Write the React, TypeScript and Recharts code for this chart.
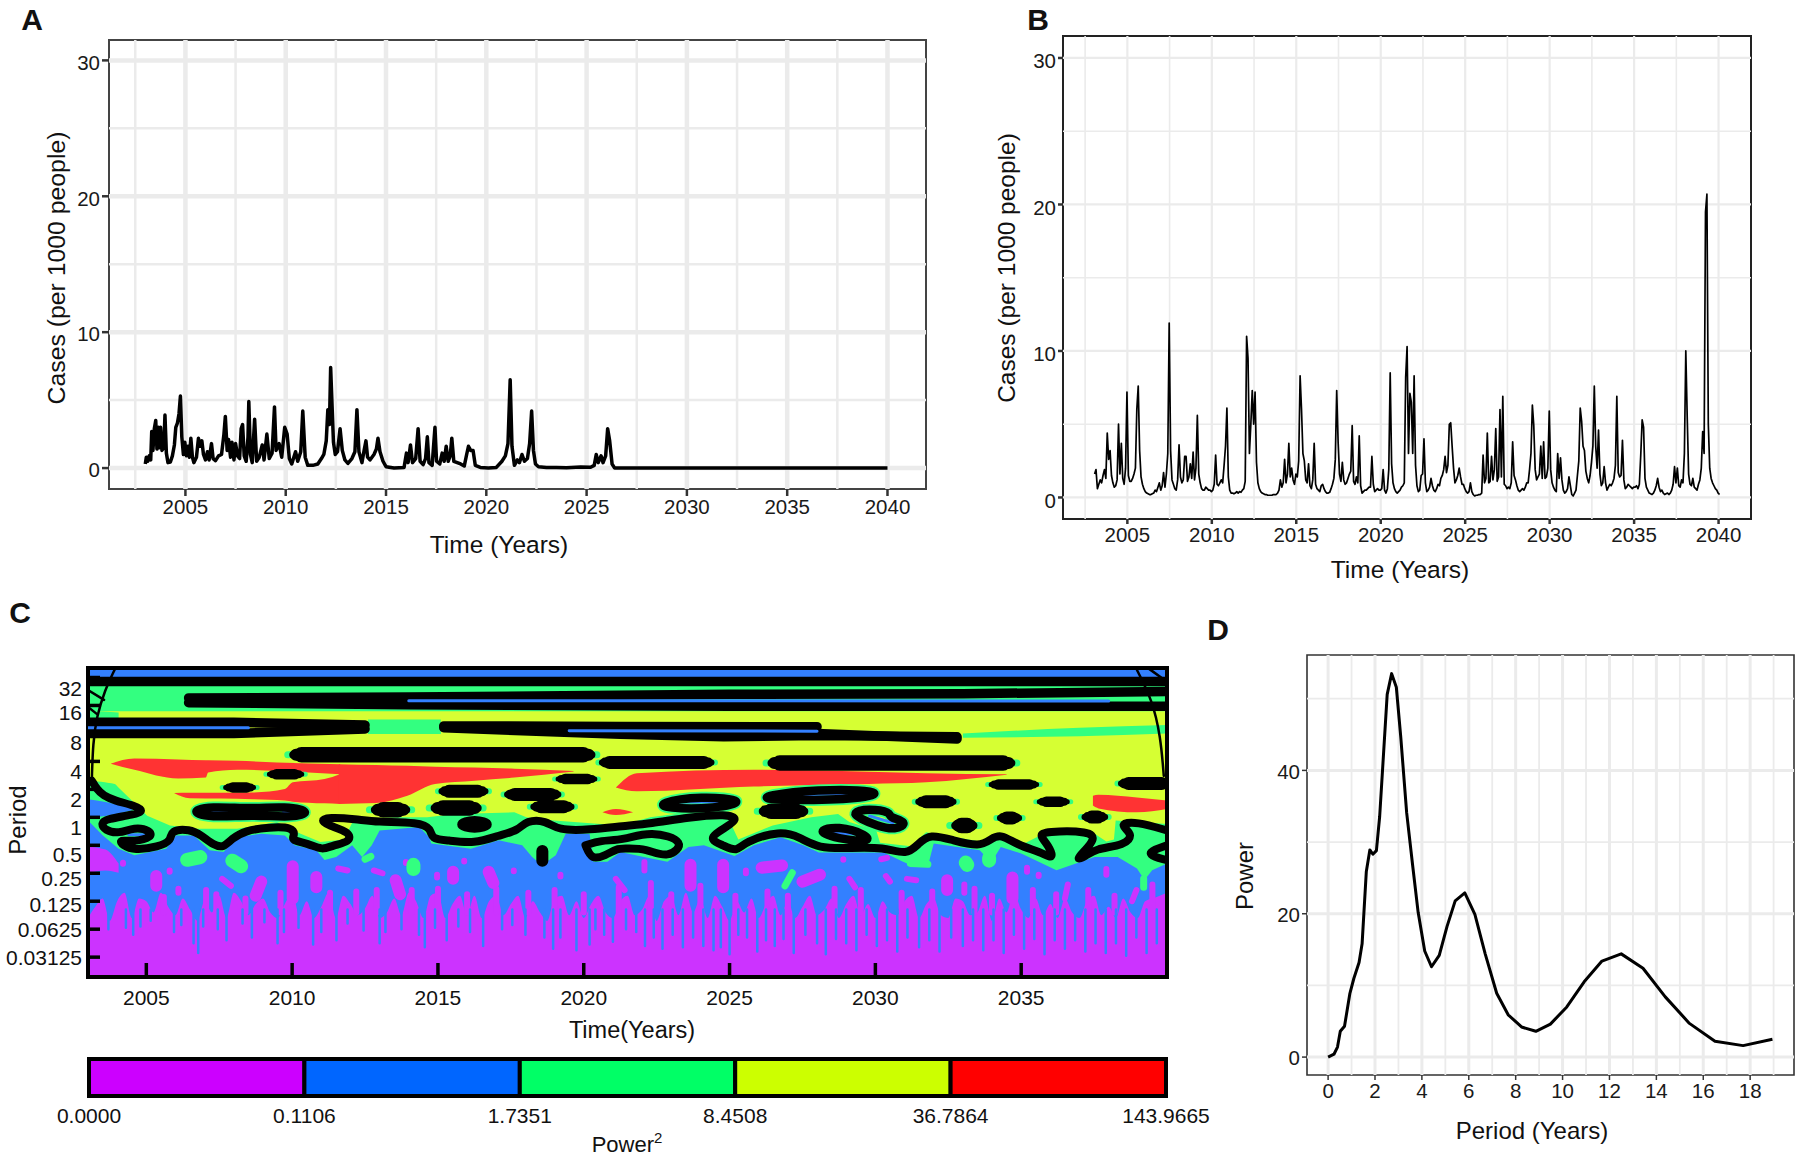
import React from "react";
import {
  Area,
  Bar,
  BarChart,
  ComposedChart,
  Line,
  LineChart,
  ReferenceArea,
  ReferenceLine,
  XAxis,
  YAxis,
} from "recharts";

const FONT = '"Liberation Sans", Arial, sans-serif';

// panel A, [year, cases]
const casesA = [
  [2003.0,.3],[2003.05,.8],[2003.12,.5],[2003.2,.9],[2003.27,.6],[2003.32,2.7],[2003.38,1.3],[2003.45,2.9],[2003.52,3.5],[2003.58,1.4],[2003.65,3.0],[2003.7,1.5],[2003.76,3.0],[2003.83,1.3],[2003.92,1.5],[2003.98,3.9],[2004.05,1.1],[2004.13,.4],[2004.25,.45],[2004.35,.9],[2004.45,1.7],[2004.52,3.0],[2004.6,3.3],[2004.68,4.0],[2004.75,5.3],[2004.82,2.3],[2004.9,1.0],[2004.97,1.9],[2005.05,.9],[2005.12,1.6],[2005.2,.8],[2005.27,2.2],[2005.35,.8],[2005.42,.4],[2005.55,.8],[2005.65,2.2],[2005.72,1.6],[2005.82,2.0],[2005.9,1.0],[2006.0,.6],[2006.1,1.2],[2006.18,.6],[2006.3,1.8],[2006.38,.7],[2006.5,.55],[2006.65,.9],[2006.8,1.0],[2006.92,2.5],[2006.99,3.8],[2007.08,1.3],[2007.15,2.1],[2007.25,.8],[2007.32,1.9],[2007.42,.6],[2007.5,1.8],[2007.6,.9],[2007.7,.7],[2007.78,2.9],[2007.85,3.2],[2007.93,.9],[2008.03,.5],[2008.12,2.3],[2008.16,4.9],[2008.24,1.0],[2008.33,.4],[2008.45,3.6],[2008.55,.5],[2008.68,.8],[2008.83,1.7],[2008.92,.6],[2009.06,2.5],[2009.18,.7],[2009.32,1.1],[2009.44,4.5],[2009.52,1.3],[2009.67,1.8],[2009.8,.8],[2009.95,3.0],[2010.07,2.5],[2010.18,.7],[2010.3,.3],[2010.49,1.2],[2010.6,.5],[2010.75,1.2],[2010.85,4.2],[2010.97,.8],[2011.1,.2],[2011.35,.2],[2011.6,.3],[2011.78,.7],[2011.9,1.0],[2012.02,2.0],[2012.1,4.3],[2012.18,3.2],[2012.24,7.4],[2012.3,5.0],[2012.38,1.9],[2012.47,1.0],[2012.58,1.2],[2012.71,2.9],[2012.82,1.3],[2012.95,.6],[2013.1,.35],[2013.3,.7],[2013.45,1.2],[2013.55,4.3],[2013.65,1.2],[2013.8,.4],[2013.92,1.4],[2014.0,2.0],[2014.08,.8],[2014.2,.6],[2014.4,1.0],[2014.52,1.4],[2014.6,2.2],[2014.7,1.2],[2014.85,.5],[2015.0,.1],[2015.4,.0],[2015.9,.05],[2016.02,1.1],[2016.1,.4],[2016.22,1.7],[2016.32,.4],[2016.48,.7],[2016.6,2.9],[2016.7,.5],[2016.85,.25],[2016.97,.7],[2017.06,2.3],[2017.14,.4],[2017.3,.2],[2017.44,3.0],[2017.52,.5],[2017.68,.3],[2017.8,1.1],[2017.9,.5],[2018.0,1.6],[2018.1,.5],[2018.2,.9],[2018.28,2.2],[2018.38,.5],[2018.55,.4],[2018.72,.3],[2018.9,.15],[2019.02,1.0],[2019.11,1.6],[2019.22,1.3],[2019.34,1.3],[2019.45,.2],[2019.7,.05],[2020.1,.0],[2020.5,.05],[2020.78,.5],[2020.95,.9],[2021.08,1.8],[2021.19,6.5],[2021.28,1.6],[2021.4,.2],[2021.55,.6],[2021.65,.4],[2021.78,1.0],[2021.9,.5],[2022.05,.7],[2022.16,1.8],[2022.26,4.2],[2022.35,1.3],[2022.45,.3],[2022.6,.1],[2023.0,.05],[2023.5,.05],[2024.0,.03],[2024.7,.08],[2025.2,.06],[2025.38,.2],[2025.48,1.0],[2025.58,.4],[2025.72,.9],[2025.82,.4],[2025.95,.9],[2026.05,2.9],[2026.15,2.0],[2026.27,.3],[2026.4,.0],[2028,.0],[2032,.0],[2036,.0],[2040,.0],
];

// panel B, monthly values, one row per year from 2003
const casesBMonthly = [
  1.6,1.9,.6,.9,1.2,1.0,1.5,1.9,1.3,4.4,2.6,3.2,
  1.5,1.0,.7,.8,1.2,5.0,1.6,3.7,1.3,.9,2.0,7.2,
  1.5,1.1,1.1,1.3,1.6,2.0,6.0,7.6,3.2,1.4,.9,.6,
  .4,.3,.25,.2,.2,.25,.3,.5,.4,.7,1.0,.5,
  .8,1.7,.7,1.6,3.0,11.9,3.2,1.2,.9,.6,.5,1.2,
  3.6,1.4,1.0,1.2,2.8,2.8,1.1,1.4,2.3,1.3,3.1,1.2,
  2.0,5.6,1.6,1.0,.6,.5,.5,.7,.6,.5,.5,.4,
  .5,.9,2.9,.9,.8,1.0,1.2,1.0,2.2,3.5,6.1,1.4,
  .5,.3,.3,.25,.3,.4,.3,.4,.35,.5,.6,1.1,
  11.0,9.5,3.0,5.0,7.3,5.0,7.2,2.4,1.0,.6,.4,.3,
  .25,.2,.2,.15,.15,.15,.15,.2,.2,.2,.3,.5,
  1.2,.7,1.0,2.6,1.0,1.6,3.7,1.4,2.0,1.2,.9,1.6,
  1.4,2.5,8.3,6.0,3.0,2.5,1.2,1.0,2.3,.8,.6,1.2,
  3.7,.9,.6,.5,.4,.8,.9,.6,.4,.3,.3,.35,
  .6,.9,1.3,2.6,7.3,3.8,1.6,1.1,2.4,1.2,.9,1.0,
  1.3,1.6,1.8,4.9,1.1,.9,1.4,1.0,4.2,.8,.3,.4,
  .5,.5,.6,.7,.7,2.8,.9,.4,.5,.6,.5,.5,
  .6,1.9,.5,.3,.6,1.9,8.5,2.3,1.0,.6,.4,.3,
  .4,.5,.7,.8,1.0,8.2,10.3,3.0,7.1,6.5,3.0,8.3,
  2.2,.8,.4,.5,1.5,1.6,4.0,1.0,.4,.5,.7,1.3,
  .8,.5,.4,.6,.9,.8,1.3,1.5,1.9,2.8,1.7,2.2,
  5.0,5.1,3.5,2.0,1.0,1.2,1.5,2.0,1.4,.9,.9,.6,
  .4,.3,.4,1.0,.4,.2,.1,.15,.15,.2,.2,.3,
  2.9,1.0,1.3,4.4,1.0,1.1,2.8,1.2,1.9,4.7,1.1,1.4,
  6.0,1.4,6.9,.9,.8,.6,.7,.6,1.0,3.8,1.5,1.2,
  .8,.5,.4,.5,.6,.5,.7,1.0,1.0,1.9,3.0,6.3,
  4.9,1.9,1.2,1.4,1.6,3.5,1.3,3.8,1.3,1.4,2.0,5.9,
  1.9,1.0,.7,.5,.4,3.0,1.3,2.7,1.2,.5,.3,.4,
  .6,1.4,.8,.2,.1,.3,.5,1.5,2.5,6.1,5.2,3.5,
  3.2,1.8,1.3,1.0,1.5,2.4,3.5,7.6,3.5,2.0,4.6,1.6,
  .8,1.0,2.1,1.0,.5,.7,.9,.8,1.0,1.3,2.2,6.9,
  1.7,1.4,1.5,3.9,1.2,.6,.7,.9,.8,.7,.6,.7,
  .7,.8,.6,.9,2.9,5.3,4.8,1.3,.7,.5,.3,.25,
  .2,.3,.5,.8,1.3,.7,.4,.5,.3,.2,.25,.3,
  .2,.3,.5,.9,2.1,1.0,2.0,.8,.7,1.2,1.0,3.0,
  10.0,5.5,1.6,.9,.8,1.3,.7,.6,.5,.9,1.2,2.0,
  4.5,3.0,19.5,20.7,5.0,2.0,1.3,1.0,.8,.6,.5,.3,
  .2,
];
const casesB = casesBMonthly.map((v, i) => [2003.06 + i / 12, v]);

// panel D, [period, power]
const spectrum = [
  [0,0],[.25,.4],[.4,1.4],[.52,3.6],[.7,4.3],[.93,8.9],[1.1,11],[1.32,13.2],[1.45,15.8],[1.63,25.9],[1.78,28.9],[1.91,28.3],[2.06,28.8],[2.2,33.6],[2.52,50.6],[2.71,53.5],[2.91,51.6],[3.1,44.6],[3.35,34.1],[3.6,26.9],[3.84,20.2],[4.12,14.8],[4.41,12.6],[4.74,14.2],[5.07,18.2],[5.42,21.8],[5.83,22.9],[6.26,19.9],[6.7,14.4],[7.19,8.9],[7.68,5.9],[8.25,4.2],[8.86,3.6],[9.48,4.6],[10.18,7],[10.92,10.5],[11.68,13.4],[12.5,14.4],[13.43,12.4],[14.38,8.4],[15.41,4.7],[16.5,2.2],[17.7,1.6],[18.95,2.5],
];

// panel C, everything in years and log2(period)
const periodTicks = [-5, -4, -3, -2, -1, 0, 1, 2, 3, 4, 5];
const periodLabels = ["0.03125", "0.0625", "0.125", "0.25", "0.5", "1", "2", "4", "8", "16", "32"];
const periodLabelNudge = [1, 1, 4, 6, 10, 11, 11, 10.5, 10, 8, 11];
const mapYears = [2005, 2010, 2015, 2020, 2025, 2030, 2035];
const mapRightTicks = [-5, -4, -3, -2, -1, 0, 1, 2, 3];
const V_MIN = -5.71;
const V_MAX = 5.34;
const GREEN_TOP = 4.72;
const YELLOW_TOP = 3.79;

// purple / blue boundary, one value every quarter year from 2003
const purpleTop = [
  -3.6,-3.2,-2.9,-3.7,-3.0,-2.7,-3.6,-2.9,
  -3.0,-3.4,-2.7,-3.2,-3.5,-2.9,-3.3,-3.7,
  -3.0,-3.4,-2.8,-3.6,-2.7,-3.0,-3.5,-3.1,
  -2.9,-3.4,-3.6,-3.1,-2.7,-3.5,-3.0,-3.6,
  -3.2,-2.7,-3.6,-2.8,-3.1,-3.5,-3.25,-2.8,
  -3.6,-3.4,-2.9,-3.5,-2.7,-3.0,-3.6,-2.8,
  -2.7,-3.6,-3.1,-2.8,-3.5,-2.8,-3.6,-3.0,
  -2.8,-3.5,-3.1,-2.8,-3.6,-3.0,-3.4,-3.7,
  -2.9,-2.8,-3.5,-3.0,-3.6,-3.1,-2.8,-3.4,
  -3.6,-3.0,-2.8,-3.5,-3.3,-2.8,-3.7,-3.0,
  -2.8,-3.5,-2.7,-3.4,-2.9,-3.6,-2.8,-3.2,
  -3.7,-3.0,-3.4,-2.9,-3.6,-3.1,-2.8,-3.5,
  -3.0,-3.6,-3.2,-2.8,-3.5,-3.3,-2.9,-3.6,
  -3.1,-2.8,-3.5,-3.1,-3.6,-3.0,-3.4,-3.5,
  -3.0,-2.8,-3.6,-3.1,-2.9,-3.5,-3.6,-2.9,
  -3.0,-3.5,-3.4,-2.8,-3.7,-2.9,-3.4,-2.7,
  -3.3,-3.6,-2.9,-3.5,-3.1,-3.6,-2.9,-3.4,
  -3.6,-3.0,-2.8,-3.5,-3.2,-3.6,-2.9,-3.4,
  -3.6,-3.0,-2.9,-2.8,-2.7,
];

// thin blue runs going down into the purple, [year, lowest period]
const blueFingers = [
  [2003.7,-4.0],[2004.3,-3.95],[2004.55,-4.2],[2004.8,-3.9],[2005.15,-3.7],[2005.95,-4.1],[2006.2,-3.85],[2006.62,-4.5],[2006.78,-4.85],[2006.95,-3.9],[2007.45,-4.0],[2007.75,-4.4],[2008.3,-3.8],[2008.62,-4.3],[2009.05,-3.75],[2009.5,-4.5],[2009.72,-4.1],[2010.22,-3.95],[2010.72,-4.55],[2011.0,-4.1],[2011.52,-4.4],[2011.9,-3.8],[2012.45,-4.05],[2013.0,-4.5],[2013.2,-4.1],[2013.75,-4.0],[2014.35,-4.2],[2014.55,-4.65],[2014.9,-3.95],[2015.3,-4.4],[2015.7,-3.9],[2016.1,-4.1],[2016.55,-4.6],[2017.2,-4.0],[2017.55,-3.85],[2018.0,-4.2],[2018.65,-4.3],[2018.95,-4.7],[2019.2,-4.3],[2019.75,-4.75],[2020.2,-4.55],[2020.4,-4.0],[2020.7,-4.2],[2021.0,-4.45],[2021.45,-4.0],[2021.8,-4.1],[2022.1,-4.6],[2022.4,-4.3],[2022.7,-4.7],[2023.05,-4.2],[2023.4,-4.65],[2023.75,-4.3],[2024.1,-4.6],[2024.45,-4.75],[2024.7,-4.65],[2025.0,-4.9],[2025.3,-4.2],[2025.6,-4.3],[2025.95,-4.8],[2026.25,-4.4],[2026.55,-4.6],[2026.85,-4.35],[2027.2,-4.85],[2027.6,-4.2],[2028.0,-4.5],[2028.3,-4.9],[2028.65,-4.35],[2029.0,-4.5],[2029.35,-4.75],[2029.7,-4.2],[2030.05,-4.6],[2030.4,-4.4],[2030.75,-4.8],[2031.1,-4.3],[2031.5,-4.65],[2031.85,-4.4],[2032.2,-4.8],[2032.6,-4.3],[2033.0,-4.6],[2033.35,-4.4],[2033.7,-4.75],[2034.05,-4.4],[2034.4,-4.85],[2034.75,-4.2],[2035.1,-4.7],[2035.45,-4.35],[2035.8,-4.9],[2036.15,-4.4],[2036.5,-4.7],[2036.85,-4.4],[2037.2,-4.8],[2037.55,-4.5],[2037.9,-4.85],[2038.25,-4.5],[2038.6,-4.95],[2038.95,-4.3],[2039.3,-4.85],[2039.65,-4.5],
];

// purple columns standing on the purple mass, [year, highest period]
const purpleColumns = [
  [2005.6,-2.85],[2007.05,-2.6],[2007.4,-2.75],[2008.4,-2.9],[2009.6,-2.7],[2011.3,-2.7],[2012.2,-2.65],[2012.9,-2.6],[2014.1,-2.6],[2015.0,-2.55],[2016.0,-2.75],[2017.0,-2.55],[2018.1,-2.7],[2019.0,-2.6],[2020.0,-2.75],[2021.2,-2.5],[2022.3,-2.35],[2023.0,-2.75],[2024.0,-2.45],[2025.2,-2.8],[2026.3,-2.65],[2027.0,-2.8],[2028.6,-2.55],[2029.5,-2.6],[2030.9,-2.7],[2031.95,-2.65],[2033.4,-2.55],[2034.0,-2.8],[2035.4,-2.6],[2036.2,-2.75],[2037.3,-2.6],[2038.2,-2.8],[2039.5,-2.4],
];

const greenFloor = [
  [2003,-.11],[2003.51,-.65],[2004.05,-1.12],[2004.59,-1.36],[2005.68,-1.12],[2006.02,-.65],[2006.63,-.65],[2007.17,-1.18],[2007.65,-1.24],[2008.12,-.71],[2008.94,-.59],[2009.75,-.65],[2010.09,-1.0],[2010.83,-1.18],[2011.11,-1.53],[2011.51,-1.42],[2012.06,-1.0],[2012.4,-1.42],[2012.73,-1.0],[2013.0,-.47],[2014.36,-.35],[2014.7,-.71],[2014.77,-.94],[2016.13,-1.12],[2017.08,-.82],[2017.89,-1.0],[2018.23,-1.42],[2018.57,-1.71],[2019.04,-1.36],[2019.38,-.59],[2020.2,-.59],[2020.33,-1.59],[2020.81,-1.59],[2021.26,-1.24],[2022.02,-1.41],[2022.87,-1.59],[2023.59,-1.06],[2024.12,-1.0],[2025.17,-1.38],[2025.83,-1.0],[2026.75,-.71],[2027.53,-1.0],[2028.06,-1.26],[2030.29,-1.26],[2030.95,-1.59],[2031.35,-1.77],[2031.81,-1.71],[2032.0,-.94],[2033.58,-1.18],[2033.97,-1.62],[2034.3,-1.06],[2035.02,-1.3],[2036.21,-1.89],[2037.52,-1.42],[2038.31,-1.42],[2038.97,-1.83],[2039.23,-2.24],[2039.49,-1.89],[2040,-1.65],
];

const yellowFloor = [
  [2003,1.31],[2003.92,1.19],[2004.46,.65],[2005.03,.06],[2005.41,-.11],[2005.81,-.29],[2006.76,-.41],[2008.12,-.41],[2009.48,-.17],[2010.29,-.59],[2010.97,-.88],[2011.78,-.79],[2012.12,-.06],[2013.55,0],[2014.63,0],[2015.58,.12],[2017.62,.18],[2018.03,0],[2018.98,-.11],[2021.26,-.29],[2022.28,0],[2023.59,.18],[2024.97,.18],[2025.1,-.35],[2025.3,-.79],[2026.48,-.29],[2027.8,0],[2028.72,.12],[2029.11,-.17],[2030.03,-.47],[2030.16,-.91],[2031.21,-1.03],[2031.74,-.53],[2033.58,-.86],[2034.24,-.55],[2035.02,-.98],[2035.94,-.5],[2037.39,-.5],[2037.92,-.86],[2038.18,-.79],[2038.24,-.11],[2039.89,-.23],[2040,-.23],
];

// [year, low, high]
const purpleCorner = [[2003,-2.0,-1.05],[2003.6,-1.9,-1.15],[2004.05,-1.98,-1.65]];
const blueCorner = [[2003,0,.65],[2003.6,.05,.55],[2004.5,.25,.35]];
const greenTip = [[2003,3.55,3.82],[2004.05,3.55,3.75]];
const greenGap = [[2012.6,2.98,3.5],[2015.1,2.98,3.5]];
const greenWedge = [[2033,2.85,3.0],[2037,2.9,3.2],[2040,3.0,3.3]];
const greenCorner = [[2003,.65,1.31],[2003.9,.75,1.19],[2004.2,.6,.7]];
const redPatches = [
  [[2003.78,1.92,1.92],[2004.59,1.70,2.10],[2006.09,1.39,2.07],[2007.04,1.42,2.04],[2007.12,1.60,2.04],[2008.12,1.70,2.02],[2009.48,1.66,1.96],[2011.65,1.54,1.90]],
  [[2005.95,.87,.87],[2006.49,.68,.88],[2008.66,.65,.89],[2009.75,.6,1.01],[2010.02,.56,1.25],[2011.11,.5,1.37],[2011.65,.48,1.54]],
  [[2011.6,.48,1.90],[2012.87,.51,1.87],[2013.95,.77,1.84],[2014.9,1.19,1.81],[2016.26,1.31,1.78],[2017.62,1.42,1.74],[2019.65,1.64,1.66]],
  [[2020.64,.18,.18],[2021.1,.08,.3],[2021.69,.18,.18]],
  [[2021.1,1.07,1.07],[2021.82,.93,1.58],[2025.83,1.10,1.70],[2029.77,1.19,1.63],[2031.74,1.25,1.58],[2034.5,1.52,1.54]],
  [[2037.46,.42,.77],[2037.65,.32,.81],[2038.97,.18,.71],[2040,.3,.6]],
];

// [year, period, year, period]
const purpleSpotsLarge = [
  [2005.34,-2.1,2005.34,-2.45],[2008.94,-2.3,2008.75,-2.8],[2010.02,-1.75,2010.02,-2.9],[2010.83,-2.13,2010.83,-2.5],[2013.55,-2.25,2013.7,-2.75],[2015.52,-1.95,2015.52,-2.2],[2016.74,-1.95,2016.9,-2.35],[2023.66,-1.7,2023.66,-2.45],[2026.1,-1.8,2026.8,-1.72],[2027.5,-2.3,2028.1,-2.05],[2032.46,-2.25,2032.46,-2.6],[2034.7,-2.15,2034.7,-2.9],[2024.78,-1.7,2024.78,-2.5],
];
const purpleSpotsSmall = [
  [2004.2,-1.62,2004.2,-1.66],[2005.8,-1.9,2005.8,-1.95],[2007.6,-2.2,2007.9,-2.45],[2006.1,-2.55,2006.1,-2.7],[2011.58,-1.83,2011.9,-1.9],[2012.8,-1.9,2013.1,-2.0],[2013.9,-1.6,2013.9,-1.63],[2014.97,-2.05,2014.97,-2.15],[2015.9,-1.55,2015.9,-1.58],[2017.6,-1.9,2017.6,-1.93],[2019.2,-2.05,2019.2,-2.12],[2022.08,-1.6,2022.08,-1.9],[2021.1,-2.2,2021.4,-2.6],[2025.56,-1.9,2025.56,-2.0],[2029.11,-2.2,2029.3,-2.5],[2030.36,-2.1,2030.5,-2.3],[2031.08,-2.2,2031.4,-2.25],[2033.05,-2.4,2033.05,-2.7],[2035.2,-1.8,2035.2,-1.95],[2036.6,-2.4,2036.5,-2.9],[2037.92,-1.85,2037.92,-2.05],[2038.95,-2.6,2038.8,-3.0],[2035.6,-2.05,2035.6,-2.1],[2028.9,-1.5,2028.9,-1.52],[2030.2,-1.5,2030.4,-1.45],
];
const greenSpotsLarge = [
  [2006.4,-1.52,2006.85,-1.42],[2007.95,-1.55,2008.25,-1.75],[2014.16,-1.7,2014.16,-1.85],[2033.1,-1.62,2033.15,-1.7],[2033.9,-1.45,2033.9,-1.55],
];
const greenSpotsSmall = [
  [2027.15,-1.98,2026.9,-2.45],[2031.2,-1.65,2031.8,-1.68],[2039.2,-2.2,2039.2,-2.5],[2012.5,-1.5,2012.7,-1.4],
];

// long contour lines
const contourMain = [
  [2003.13,1.31],[2003.3,1.01],[2003.53,.77],[2003.91,.6],[2004.59,.42],[2004.93,.24],[2004.59,.1],[2003.64,-.06],[2003.44,-.2],[2003.58,-.47],[2004.05,-.59],[2004.59,-.35],[2005.14,-.47],[2005.2,-.71],[2004.59,-.88],[2004.05,-.79],[2004.19,-1.0],[2004.59,-1.18],[2005.41,-1.06],[2005.88,-.82],[2005.81,-.47],[2006.49,-.41],[2006.9,-.65],[2007.31,-1.0],[2007.65,-1.09],[2007.92,-.77],[2008.39,-.47],[2009.21,-.35],[2010.02,-.35],[2010.09,-.65],[2009.95,-.82],[2010.56,-.94],[2011.04,-1.18],[2011.38,-1.0],[2011.99,-.88],[2011.99,-.53],[2011.24,-.29],[2010.97,-.11],[2011.24,0],[2012.19,-.06],[2012.87,-.17],[2014.36,-.17],[2014.77,-.41],[2014.77,-.77],[2015.31,-.82],[2016.26,-.94],[2017.08,-.65],[2017.76,-.47],[2018.03,-.11],[2018.71,-.11],[2019.11,-.47],[2020.2,-.45],[2021.36,-.31],[2022.28,-.23],[2023.59,0],[2024.91,.12],[2025.33,-.06],[2024.78,-.41],[2024.25,-.77],[2024.78,-1.0],[2025.26,-1.24],[2025.5,-.88],[2026.75,-.47],[2027.4,-.71],[2028.06,-1.12],[2029.11,-1.1],[2030.29,-1.06],[2031.08,-1.36],[2031.48,-.94],[2031.87,-.59],[2032.66,-.82],[2033.58,-1.06],[2033.97,-.77],[2034.3,-.59],[2034.89,-1.0],[2035.68,-1.24],[2036.14,-1.53],[2035.94,-1.0],[2035.62,-.65],[2035.81,-.5],[2037.39,-.49],[2037.52,-.79],[2037.19,-1.18],[2036.86,-1.53],[2037.19,-1.42],[2037.52,-1.12],[2038.57,-1.0],[2038.86,-.59],[2038.31,-.23],[2038.97,-.15],[2040,-.47],
];
const contourLow = [
  [2020.06,-1.0],[2020.27,-1.53],[2020.74,-1.36],[2021.15,-1.12],[2021.36,-1.12],[2022.15,-1.1],[2022.87,-1.5],[2023.57,-.86],[2022.28,-.47],[2021.36,-.82],[2020.57,-.82],[2020.06,-1.0],
];
const contourCorner = [[2040,-1.0],[2039.16,-1.3],[2040,-1.53]];
const contourRings = [
  [[2006.49,.22],[2007.17,.4],[2008.66,.3],[2009.75,.4],[2010.7,.2],[2010.02,-.02],[2008.66,.1],[2007.17,-.02]],
  [[2015.58,-.26],[2016.26,-.03],[2016.92,-.26],[2016.26,-.47]],
  [[2022.54,.51],[2023.99,.77],[2025.7,.6],[2024.51,.3],[2022.8,.32]],
  [[2026.22,.77],[2027.93,1.01],[2030.29,.95],[2029.77,.68],[2027.4,.6],[2026.22,.65]],
  [[2027.93,-.5],[2028.72,-.29],[2029.77,-.65],[2029.77,-.88],[2028.72,-.77]],
  [[2029.18,.18],[2029.77,.32],[2030.56,.18],[2030.43,0],[2031.15,-.17],[2030.69,-.47],[2030.03,-.29],[2029.5,-.06]],
];
const contourStripes = [
  [[2003,4.86],[2040,4.86]],
  [[2006.45,4.27],[2014,4.3],[2025,4.4],[2033,4.42],[2040,4.5]],
  [[2006.45,4.1],[2014,4.03],[2025,3.97],[2040,3.97]],
  [[2003,3.4],[2008,3.4],[2012.5,3.3]],
  [[2003,3.0],[2008,3.0],[2012.5,3.16]],
  [[2015.2,3.27],[2021.26,3.25],[2028,3.24]],
  [[2015.2,3.2],[2021.26,2.97],[2024.8,2.88],[2028,2.93],[2032.8,2.88]],
  [[2028,3.0],[2032.8,2.8]],
];
const coneLeft = [[2003.91,5.27],[2003.58,4.56],[2003.3,3.61],[2003.17,2.67],[2003.13,1.31]];
const coneRight = [[2038.97,5.27],[2039.49,4.2],[2039.78,2.9],[2039.89,1.48]];
const coneMarks = [[2003,5.0,2003.55,4.85],[2003,4.55,2003.55,4.2],[2003,3.95,2003.3,3.7],[2039.4,5.3,2040,4.85]];

// short blobs, [from, to, period]
const blobsThin = [
  [2007.8,2008.6,1.07],[2009.3,2010.25,1.54],[2019.2,2020.3,1.37],[2034.05,2035.45,1.17],[2035.7,2036.5,.56],
];
const blobsMid = [
  [2015.2,2016.55,.93],[2017.45,2019.05,.82],[2018.35,2019.5,.38],[2020.7,2024.3,1.96],[2038.5,2040,1.21],[2031.55,2032.6,.56],[2034.35,2034.85,-.02],[2037.25,2037.8,.01],
];
const blobsThick = [
  [2010.1,2020.2,2.24],[2026.5,2034.6,1.94],[2032.8,2033.3,-.29],[2012.9,2013.85,.27],[2014.95,2016.3,.33],[2026.2,2027.5,.22],
];
const blobUpright = [[2018.58,-1.2],[2018.58,-1.55]];

// thin core left inside some rings and stripes, [year, period, year, period]
const blueSlivers = [
  [2003,3.2,2008.5,3.2],[2019.5,3.1,2028,3.08],[2014,4.17,2038,4.16],[2006.9,.2,2008.4,.2],[2009.7,.2,2010.3,.2],[2023,.55,2025,.56],[2026.8,.8,2029.5,.85],[2028.2,-.55,2029.3,-.6],[2029.8,.05,2030.6,-.2],[2004.4,-.62,2005,-.62],[2015.9,-.26,2016.6,-.26],
];

const legendBands = [
  { key: "b1", color: "#CC00FF" },
  { key: "b2", color: "#0066FF" },
  { key: "b3", color: "#00FF66" },
  { key: "b4", color: "#CCFF00" },
  { key: "b5", color: "#FF0000" },
];
const legendRow = [{ name: "power", b1: 1, b2: 1, b3: 1, b4: 1, b5: 1 }];
const legendLabels = ["0.0000", "0.1106", "1.7351", "8.4508", "36.7864", "143.9665"];
const legendTicks = [0, 1, 2, 3, 4, 5];

const toXY = (rows: number[][]) => rows.map(([x, y]) => ({ x, y }));
const toRange = (rows: number[][]) => rows.map(([x, lo, hi]) => ({ x, r: [lo, hi] }));
const toSegments = (rows: number[][]) =>
  rows.flatMap(([a, b, c, d]) => [{ x: a, y: b }, { x: c, y: d }, { x: c, y: null }]);
// grow (or with a negative value shrink) a blob at both ends, in years
const blobSegments = (rows: number[][], grow = 0) =>
  rows.flatMap(([a, b, v]) => {
    const g = grow < 0 ? Math.max(grow, -(b - a) * 0.3) : grow;
    return [{ x: a - g, y: v }, { x: b + g, y: v }, { x: b + g, y: null }];
  });

const gridLines = (
  xMajor: number[], xMinor: number[], yMajor: number[], yMinor: number[], major: number, minor: number,
) => [
  ...xMinor.map((v) => <ReferenceLine key={`xm${v}`} x={v} stroke="#ebebeb" strokeWidth={minor} />),
  ...yMinor.map((v) => <ReferenceLine key={`ym${v}`} y={v} stroke="#ebebeb" strokeWidth={minor} />),
  ...xMajor.map((v) => <ReferenceLine key={`xM${v}`} x={v} stroke="#ebebeb" strokeWidth={major} />),
  ...yMajor.map((v) => <ReferenceLine key={`yM${v}`} y={v} stroke="#ebebeb" strokeWidth={major} />),
];

function Txt({ x, y, size, rotate, bold, children }: any) {
  return (
    <div
      style={{
        position: "absolute",
        left: x,
        top: y,
        transform: `translate(-50%,-50%) rotate(${rotate || 0}deg)`,
        fontSize: size,
        fontWeight: bold ? 700 : 400,
        whiteSpace: "nowrap",
        lineHeight: 1.2,
        color: "#111",
      }}
    >
      {children}
    </div>
  );
}

const yearTicks = [2005, 2010, 2015, 2020, 2025, 2030, 2035, 2040];
const yearMinor = [2002.5, 2007.5, 2012.5, 2017.5, 2022.5, 2027.5, 2032.5, 2037.5];

function CasesPanel({ rows, box, stroke, major, minor, yMin, tickLen, frame, labelDy }: any) {
  const [l, t, w, h] = box;
  return (
    <div style={{ position: "absolute", left: 0, top: 0 }}>
      <LineChart
        width={l + w + 20}
        height={t + h + 40}
        data={toXY(rows)}
        margin={{ left: l - 1, top: t, right: 20, bottom: 39 }}
      >
        {gridLines(yearTicks, yearMinor, [0, 10, 20, 30], [5, 15, 25], major, minor)}
        <XAxis
          dataKey="x"
          type="number"
          domain={[2001.19, 2041.92]}
          ticks={yearTicks}
          height={1}
          tick={{ fontSize: 20.5, fill: "#1a1a1a" }}
          tickLine={{ stroke: "#333", strokeWidth: 2.5 }}
          tickSize={tickLen}
          tickMargin={3}
          axisLine={false}
          interval={0}
        />
        <YAxis
          type="number"
          domain={[yMin, 31.5]}
          ticks={[0, 10, 20, 30]}
          width={1}
          tick={{ fontSize: 20.5, fill: "#1a1a1a", dy: labelDy }}
          tickLine={{ stroke: "#333", strokeWidth: 2.5 }}
          tickSize={tickLen}
          tickMargin={2}
          axisLine={false}
          interval={0}
        />
        <Line dataKey="y" stroke="#000" strokeWidth={stroke} dot={false} activeDot={false} isAnimationActive={false} strokeLinejoin="round" />
        <ReferenceArea x1={2001.19} x2={2041.92} y1={yMin} y2={31.5} fill="none" stroke={frame} strokeWidth={2} />
      </LineChart>
    </div>
  );
}

function MapXTick({ x, y, payload }: any) {
  return (
    <g>
      <line x1={x} x2={x} y1={y} y2={y - 14} stroke="#000" strokeWidth={3.5} />
      <text x={x} y={y + 28} textAnchor="middle" fontSize={21} fill="#111">{payload.value}</text>
    </g>
  );
}
function MapTopTick({ x, y }: any) {
  return <line x1={x} x2={x} y1={y} y2={y + 9} stroke="#000" strokeWidth={3.5} />;
}
function MapYTick({ x, y, payload }: any) {
  const i = periodTicks.indexOf(payload.value);
  return (
    <g>
      <line x1={x} x2={x + 12} y1={y} y2={y} stroke="#000" strokeWidth={3.5} />
      <text x={x - 6} y={y + periodLabelNudge[i] + 7} textAnchor="end" fontSize={21} fill="#111">{periodLabels[i]}</text>
    </g>
  );
}
function MapRightTick({ x, y }: any) {
  return <line x1={x} x2={x - 12} y1={y} y2={y} stroke="#000" strokeWidth={3.5} />;
}

const band = (key: string, rows: any[], color: string, type: any = "monotone") => (
  <Area key={key} data={rows} dataKey="r" type={type} fill={color} fillOpacity={1} stroke="none" dot={false} activeDot={false} isAnimationActive={false} />
);
const stroke = (key: string, rows: any[], color: string, width: number, type: any = "basis") => (
  <Line key={key} data={rows} dataKey="y" type={type} stroke={color} strokeWidth={width} strokeLinecap="round" strokeLinejoin="round" dot={false} activeDot={false} isAnimationActive={false} />
);

const BLUE = "#3380ff";
const PURPLE = "#cc33ff";
const GREEN = "#33ff80";
const YELLOW = "#d6ff33";
const RED = "#ff3333";

function WaveletPanel() {
  const base = [{ x: 2003, r: [V_MIN, V_MAX] }, { x: 2040, r: [V_MIN, V_MAX] }];
  const purple = purpleTop.map((v, i) => ({ x: 2003 + i * 0.25, r: [V_MIN, v] }));
  const green = greenFloor.map(([x, v]) => ({ x, r: [v, GREEN_TOP] }));
  const yellow = yellowFloor.map(([x, v]) => ({ x, r: [v, YELLOW_TOP] }));
  const fingers = blueFingers.map(([t, low]) => [t, -3.3, t, low]);
  const columns = purpleColumns.map(([t, high]) => [t, -3.4, t, high]);
  return (
    <div style={{ position: "absolute", left: 0, top: 650 }}>
      <ComposedChart width={1200} height={370} margin={{ left: 87, top: 17, right: 32, bottom: 42 }}>
        <XAxis dataKey="x" type="number" domain={[2003, 2040]} allowDataOverflow ticks={mapYears} height={1} tickSize={0} tickMargin={0} tick={<MapXTick />} tickLine={false} axisLine={false} interval={0} />
        <XAxis xAxisId="top" orientation="top" dataKey="x" type="number" domain={[2003, 2040]} ticks={mapYears} height={1} tickSize={0} tickMargin={0} tick={<MapTopTick />} tickLine={false} axisLine={false} interval={0} />
        <YAxis type="number" domain={[V_MIN, V_MAX]} allowDataOverflow ticks={periodTicks} width={1} tickSize={0} tickMargin={0} tick={<MapYTick />} tickLine={false} axisLine={false} interval={0} />
        <YAxis yAxisId="right" orientation="right" type="number" domain={[V_MIN, V_MAX]} ticks={mapRightTicks} width={1} tickSize={0} tickMargin={0} tick={<MapRightTick />} tickLine={false} axisLine={false} interval={0} />

        {band("base", base, BLUE, "linear")}
        {band("purple", purple, PURPLE, "monotone")}
        {band("purpleCorner", toRange(purpleCorner), PURPLE)}
        {band("green", green, GREEN, "linear")}
        {band("yellow", yellow, YELLOW, "linear")}
        {band("blueCorner", toRange(blueCorner), BLUE)}
        {band("greenCorner", toRange(greenCorner), GREEN)}
        {band("greenTip", toRange(greenTip), GREEN)}
        {band("greenGap", toRange(greenGap), GREEN)}
        {band("greenWedge", toRange(greenWedge), GREEN)}
        {redPatches.map((p, i) => band(`red${i}`, toRange(p), RED))}

        {stroke("columns", toSegments(columns), PURPLE, 6, "linear")}
        {stroke("fingers", toSegments(fingers), BLUE, 2.5, "linear")}
        {stroke("spotL", toSegments(purpleSpotsLarge), PURPLE, 12, "linear")}
        {stroke("spotS", toSegments(purpleSpotsSmall), PURPLE, 6, "linear")}
        {stroke("gspotL", toSegments(greenSpotsLarge), GREEN, 14, "linear")}
        {stroke("gspotS", toSegments(greenSpotsSmall), GREEN, 7, "linear")}

        {stroke("haloThin", blobSegments(blobsThin, 0.2), GREEN, 5, "linear")}
        {stroke("haloMid", blobSegments(blobsMid, 0.2), GREEN, 6, "linear")}
        {stroke("haloThick", blobSegments(blobsThick, 0.25), GREEN, 7, "linear")}
        {contourRings.map((r, i) => stroke(`halo${i}`, toXY(r), GREEN, 12, "basisClosed"))}

        {contourStripes.map((s, i) => stroke(`stripe${i}`, toXY(s), "#000", 9.5, "linear"))}
        {stroke("slivers", toSegments(blueSlivers), BLUE, 3, "linear")}

        {stroke("coneL", toXY(coneLeft), "#000", 2.5)}
        {stroke("coneR", toXY(coneRight), "#000", 2.5)}
        {stroke("marks", toSegments(coneMarks), "#000", 2.5, "linear")}
        {stroke("main", toXY(contourMain), "#000", 8)}
        {stroke("low", toXY(contourLow), "#000", 8)}
        {stroke("corner", toXY(contourCorner), "#000", 8)}
        {contourRings.map((r, i) => stroke(`ring${i}`, toXY(r), "#000", 8.5, "basisClosed"))}
        {/* three nested strokes per blob, so the ends taper like an ellipse */}
        {stroke("blobThinEnd", blobSegments(blobsThin, 0.08), "#000", 5, "linear")}
        {stroke("blobMidEnd", blobSegments(blobsMid, 0.08), "#000", 6, "linear")}
        {stroke("blobThickEnd", blobSegments(blobsThick, 0.08), "#000", 7, "linear")}
        {stroke("blobThinMid", blobSegments(blobsThin, -0.03), "#000", 8, "linear")}
        {stroke("blobMidMid", blobSegments(blobsMid, -0.03), "#000", 10, "linear")}
        {stroke("blobThickMid", blobSegments(blobsThick, -0.03), "#000", 12, "linear")}
        {stroke("blobThin", blobSegments(blobsThin, -0.16), "#000", 10.5, "linear")}
        {stroke("blobMid", blobSegments(blobsMid, -0.18), "#000", 13, "linear")}
        {stroke("blobThick", blobSegments(blobsThick, -0.22), "#000", 15.5, "linear")}
        {stroke("upright", toXY(blobUpright), "#000", 12, "linear")}

        <ReferenceArea x1={2003} x2={2040} y1={V_MIN} y2={V_MAX} fill="none" stroke="#000" strokeWidth={4} />
      </ComposedChart>
    </div>
  );
}

function PowerLegend() {
  return (
    <div style={{ position: "absolute", left: 0, top: 1040 }}>
      <BarChart
        width={1230}
        height={100}
        data={legendRow}
        layout="vertical"
        barCategoryGap={0}
        margin={{ left: 89, top: 19, right: 64, bottom: 43 }}
      >
        <XAxis
          type="number"
          domain={[0, 5]}
          ticks={legendTicks}
          height={1}
          tickFormatter={(v: number) => legendLabels[v]}
          tick={{ fontSize: 21, fill: "#111" }}
          tickLine={false}
          tickSize={0}
          tickMargin={12}
          axisLine={false}
          interval={0}
        />
        <YAxis type="category" dataKey="name" hide />
        {legendBands.map((b) => (
          <Bar key={b.key} dataKey={b.key} stackId="bar" fill={b.color} stroke="#000" strokeWidth={4} isAnimationActive={false} />
        ))}
      </BarChart>
    </div>
  );
}

function SpectrumPanel() {
  const periodMajor = [0, 2, 4, 6, 8, 10, 12, 14, 16, 18];
  const periodMinor = [1, 3, 5, 7, 9, 11, 13, 15, 17, 19];
  return (
    <div style={{ position: "absolute", left: 1200, top: 620 }}>
      <LineChart
        width={600}
        height={495}
        data={toXY(spectrum)}
        margin={{ left: 106, top: 35, right: 6, bottom: 39 }}
      >
        {gridLines(periodMajor, periodMinor, [0, 20, 40], [10, 30, 50], 3, 1.8)}
        <XAxis
          dataKey="x"
          type="number"
          domain={[-0.9, 19.87]}
          ticks={periodMajor}
          height={1}
          tick={{ fontSize: 20.5, fill: "#1a1a1a" }}
          tickLine={{ stroke: "#333", strokeWidth: 1.5 }}
          tickSize={5}
          tickMargin={3}
          axisLine={false}
          interval={0}
        />
        <YAxis
          type="number"
          domain={[-2.5, 56.1]}
          ticks={[0, 20, 40]}
          width={1}
          tick={{ fontSize: 20.5, fill: "#1a1a1a", dy: 1 }}
          tickLine={{ stroke: "#333", strokeWidth: 1.5 }}
          tickSize={5}
          tickMargin={2}
          axisLine={false}
          interval={0}
        />
        <Line dataKey="y" stroke="#000" strokeWidth={3} dot={false} activeDot={false} isAnimationActive={false} strokeLinejoin="round" />
        <ReferenceArea x1={-0.9} x2={19.87} y1={-2.5} y2={56.1} fill="none" stroke="#333" strokeWidth={1.6} />
      </LineChart>
    </div>
  );
}

export default function App() {
  return (
    <div
      style={{
        position: "absolute",
        left: 0,
        top: 0,
        width: 1800,
        height: 1159,
        overflow: "hidden",
        background: "#fff",
        fontFamily: FONT,
      }}
    >
      <CasesPanel rows={casesA} box={[109, 40, 817, 449]} stroke={3.5} major={4.5} minor={2.5} yMin={-1.54} tickLen={7} frame="#444" labelDy={2} />
      <CasesPanel rows={casesB} box={[1063, 36, 688, 483]} stroke={1.7} major={2.2} minor={1.6} yMin={-1.47} tickLen={5} frame="#222" labelDy={3} />
      <WaveletPanel />
      <PowerLegend />
      <SpectrumPanel />

      <Txt x={32} y={20} size={30} bold>A</Txt>
      <Txt x={1038} y={20} size={30} bold>B</Txt>
      <Txt x={20} y={613} size={30} bold>C</Txt>
      <Txt x={1218} y={630} size={30} bold>D</Txt>

      <Txt x={499} y={545} size={24.5}>Time (Years)</Txt>
      <Txt x={57} y={268} size={24.8} rotate={-90}>Cases (per 1000 people)</Txt>
      <Txt x={1400} y={570} size={24.5}>Time (Years)</Txt>
      <Txt x={1007} y={268} size={24.5} rotate={-90}>Cases (per 1000 people)</Txt>
      <Txt x={632} y={1030} size={23.5}>Time(Years)</Txt>
      <Txt x={18} y={820} size={24} rotate={-90}>Period</Txt>
      <Txt x={627} y={1145} size={22}>
        Power<sup style={{ fontSize: 15, lineHeight: 0 }}>2</sup>
      </Txt>
      <Txt x={1532} y={1131} size={24}>Period (Years)</Txt>
      <Txt x={1245} y={876} size={24} rotate={-90}>Power</Txt>
    </div>
  );
}
